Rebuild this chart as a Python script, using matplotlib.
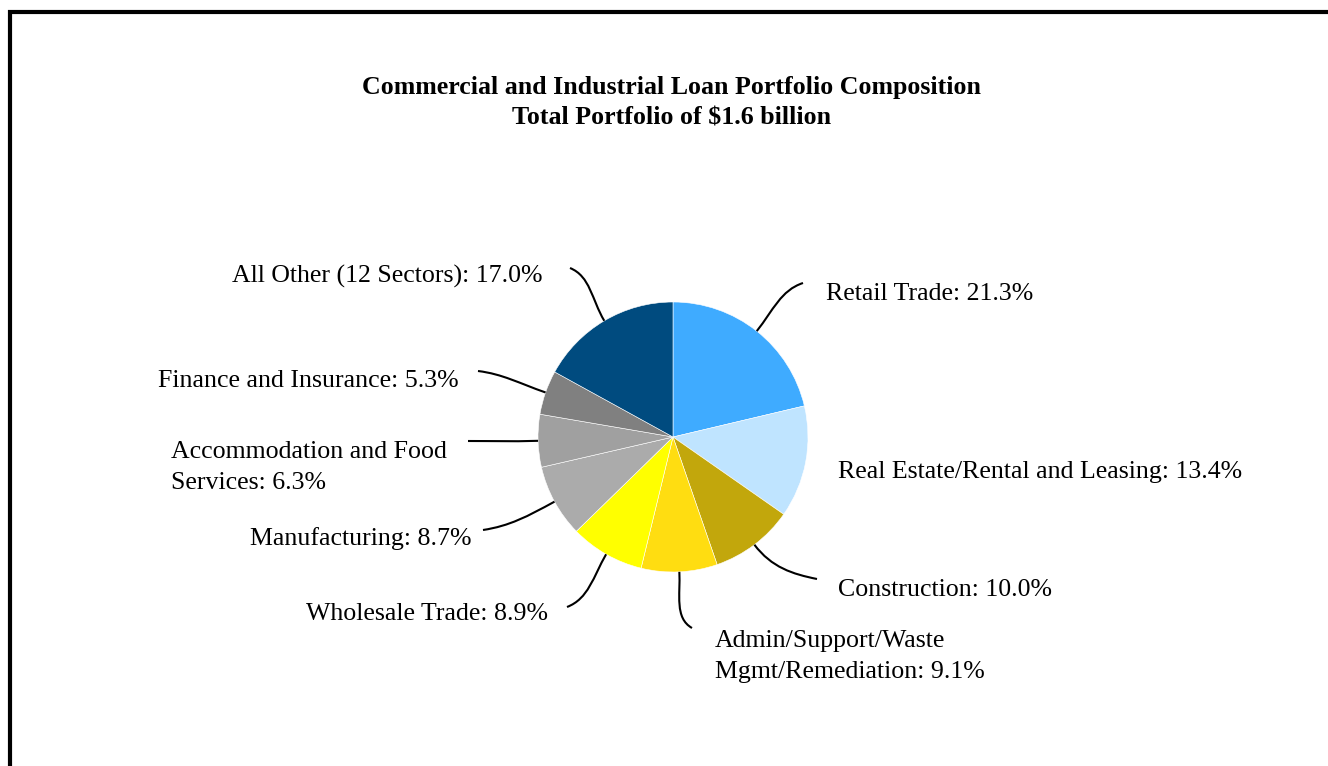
import matplotlib.pyplot as plt
import numpy as np
from matplotlib.path import Path
from matplotlib.patches import PathPatch, Rectangle

plt.rcParams['font.family'] = ['Liberation Serif', 'DejaVu Serif']

# datos del gráfico
sectores = ['Retail Trade', 'Real Estate/Rental and Leasing', 'Construction',
            'Admin/Support/Waste\nMgmt/Remediation', 'Wholesale Trade', 'Manufacturing',
            'Accommodation and Food\nServices', 'Finance and Insurance',
            'All Other (12 Sectors)']
porcentajes = [21.3, 13.4, 10.0, 9.1, 8.9, 8.7, 6.3, 5.3, 17.0]
colores = ['#3FABFF', '#BFE4FF', '#C2A70C', '#FFDD11', '#FFFF00',
           '#ABABAB', '#A0A0A0', '#808080', '#004B7F']

H = 766  # alto en px, para pasar coordenadas de imagen a datos

# posición de cada etiqueta (px, borde izquierdo y línea base) y fin de la guía
pos_texto = [(826, 300), (838, 478), (838, 596), (715, 647), (306, 620),
             (250, 545), (171, 458), (158, 387), (232, 283)]
fin_guia = [(803, 283), None, (817, 579), (692, 628), (567, 607),
            (483, 530), (468, 441), (478, 371), (570, 268)]
interlinea = 31

fig = plt.figure(figsize=(13.28, 7.66), dpi=100)
ax = fig.add_axes([0, 0, 1, 1])

cx, cy, r = 673, H - 437, 135
wedges, _ = ax.pie(porcentajes, colors=colores, startangle=90, counterclock=False,
                   center=(cx, cy), radius=r, frame=True,
                   wedgeprops=dict(edgecolor='white', linewidth=0.4))
ax.set_xlim(0, 1328)
ax.set_ylim(0, H)
ax.set_aspect('equal')
ax.axis('off')

for w, nombre, pct, (tx, ty), fin in zip(wedges, sectores, porcentajes, pos_texto, fin_guia):
    lineas = f'{nombre}: {pct:.1f}%'.split('\n')
    for i, linea in enumerate(lineas):
        ax.text(tx, H - ty - i * interlinea, linea, fontsize=18.6, ha='left',
                va='baseline')
    if fin is None:
        continue
    # guía curva: sale radial del borde de la porción y llega casi horizontal
    ang = np.deg2rad((w.theta1 + w.theta2) / 2)
    ur = np.array([np.cos(ang), np.sin(ang)])
    s = np.array([cx, cy]) + ur * r
    e = np.array([fin[0], H - fin[1]])
    d = np.linalg.norm(e - s)
    lado = np.sign(e[0] - s[0])
    hacia = 0.6 * np.array([-lado, 0]) + 0.4 * (s - e) / d
    hacia /= np.linalg.norm(hacia)
    p1 = s + ur * d * 0.4
    p2 = e + hacia * d * 0.35
    camino = Path([s, p1, p2, e], [Path.MOVETO, Path.CURVE4, Path.CURVE4, Path.CURVE4])
    ax.add_patch(PathPatch(camino, fill=False, color='black', lw=1.5))

ax.text(672, H - 94, 'Commercial and Industrial Loan Portfolio Composition',
        fontsize=18.6, fontweight='bold', ha='center', va='baseline')
ax.text(672, H - 125, 'Total Portfolio of $1.6 billion',
        fontsize=18.6, fontweight='bold', ha='center', va='baseline')

# marco negro
ax.add_patch(Rectangle((10, -50), 1500, H - 12 + 50, fill=False,
                       edgecolor='black', lw=3))

fig.savefig('out.png', dpi=100)
